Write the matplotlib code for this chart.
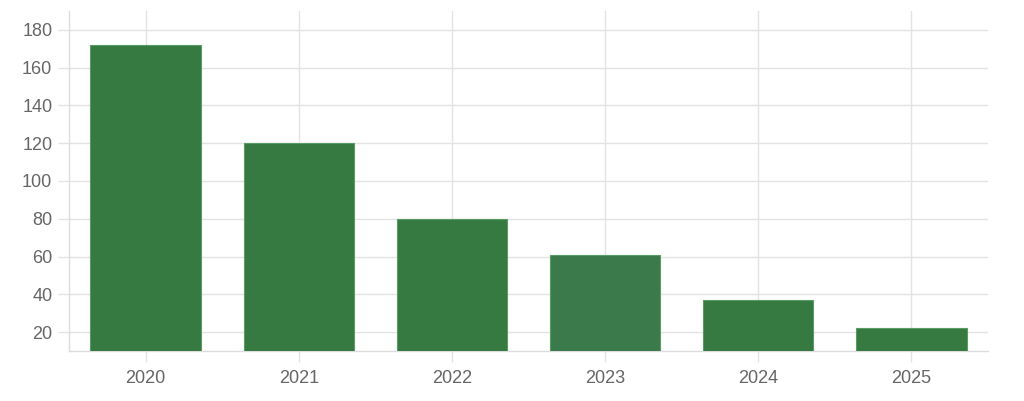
import matplotlib.pyplot as plt

years = ["2020", "2021", "2022", "2023", "2024", "2025"]
values = [172, 120, 80, 61, 37, 22]
bar_colors = ["#367a42", "#367a42", "#367a42", "#3a7a4b", "#367a42", "#367a42"]
y_ticks = [20, 40, 60, 80, 100, 120, 140, 160, 180]

plt.rcParams["font.family"] = ["Liberation Sans", "DejaVu Sans"]

fig = plt.figure(figsize=(10.24, 4.01), dpi=100)
ax = fig.add_axes([69 / 1024, 50 / 401, 919 / 1024, 340 / 401])

x = range(len(years))
ax.bar(x, values, width=0.72, color=bar_colors, edgecolor="#5a9a66", linewidth=0.8, zorder=3)

ax.set_xlim(-0.5, len(years) - 0.5)
ax.set_ylim(10, 190)
ax.set_xticks(list(x))
ax.set_xticklabels(years)
ax.set_yticks(y_ticks)

grid_c = "#e3e3e3"
ax.grid(True, color=grid_c, linewidth=1, zorder=0)
ax.set_axisbelow(True)
for s in ["top", "right"]:
    ax.spines[s].set_visible(False)
for s in ["left", "bottom"]:
    ax.spines[s].set_color("#dcdcdc")
    ax.spines[s].set_linewidth(1)
ax.tick_params(axis="both", colors=grid_c, labelcolor="#666666", labelsize=13, length=8, width=1)
ax.tick_params(axis="x", pad=6)
ax.tick_params(axis="y", pad=4)

fig.savefig("out.png", dpi=100)
